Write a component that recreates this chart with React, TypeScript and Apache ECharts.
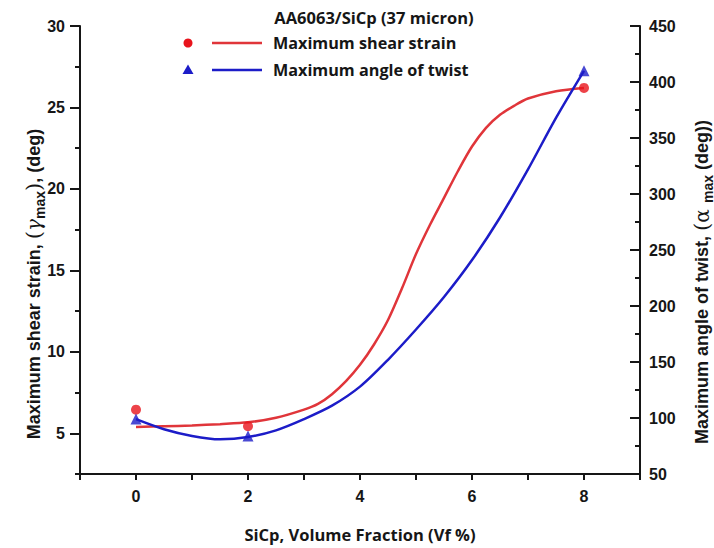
import React, { useEffect, useRef } from "react";
import * as echarts from "echarts";

// Measured data points
const volumeFraction = [0, 2, 8];
const shearStrain = [6.45, 5.43, 26.2];
const twistAngle = [99, 84, 410];

// Fitted curves
const shearFitX = [0, 0.5, 1, 1.5, 2, 2.5, 3, 3.25, 3.5, 3.75, 4, 4.25, 4.5, 4.75, 5, 5.25, 5.5, 5.75, 6, 6.25, 6.5, 6.75, 7, 7.5, 8];
const shearFit = [5.38, 5.43, 5.48, 5.56, 5.67, 5.95, 6.45, 6.8, 7.4, 8.2, 9.2, 10.45, 11.95, 13.9, 16.0, 17.8, 19.45, 21.1, 22.6, 23.75, 24.55, 25.1, 25.55, 26.0, 26.2];
const twistFitX = [0, 0.5, 1, 1.5, 2, 2.5, 3, 3.5, 4, 4.5, 5, 5.5, 6, 6.5, 7, 7.5, 8];
const twistFit = [99, 90, 84, 81, 83, 89, 99, 111, 128, 152, 179, 208, 241, 279, 322, 368, 410];

// Tick labels
const xTickLabels = [0, 2, 4, 6, 8];
const leftMajorTicks = [5, 10, 15, 20, 25, 30];

const RED_LINE = "#e0353a";
const RED_DOT = "#e8141c";
const BLUE = "#1c1cc8";
const INK = "#161616";

export default function App() {
  const ref = useRef<HTMLDivElement>(null);
  useEffect(() => {
    if (!ref.current) return;
    const chart = echarts.init(ref.current, undefined, { renderer: "svg" });
    const tickFont = { fontFamily: "Liberation Sans", fontWeight: "bold" as const, fontSize: 16, color: INK };
    const axisLine = { onZero: false, lineStyle: { color: INK, width: 2 } };
    const tickStyle = { color: INK, width: 2 };
    chart.setOption({
      animation: false,
      backgroundColor: "#fff",
      grid: { left: 80, right: 74, top: 26, bottom: 70, containLabel: false },
      xAxis: {
        type: "value",
        min: -1,
        max: 9,
        interval: 1,
        axisLine,
        axisTick: { length: 6, lineStyle: tickStyle },
        axisLabel: {
          ...tickFont,
          margin: 14,
          formatter: (v: number) => (xTickLabels.includes(v) ? String(v) : ""),
        },
        splitLine: { show: false },
        name: "SiCp, Volume Fraction (Vf %)",
        nameLocation: "middle",
        nameGap: 52,
        nameTextStyle: { fontFamily: "Open Sans", fontWeight: "bold", fontSize: 16.5, color: INK },
      },
      yAxis: [
        {
          type: "value",
          position: "left",
          offset: 0,
          min: 2.5,
          max: 30,
          interval: 2.5,
          axisLine: { show: true, ...axisLine },
          axisTick: { show: true, length: 5, lineStyle: tickStyle },
          axisLabel: {
            ...tickFont,
            margin: 15,
            formatter: (v: number) => (leftMajorTicks.includes(v) ? String(v) : ""),
          },
          splitLine: { show: false },
        },
        {
          type: "value",
          position: "right",
          offset: 0,
          min: 50,
          max: 450,
          interval: 50,
          axisLine: { show: true, ...axisLine },
          axisTick: { show: true, inside: true, length: 10, lineStyle: tickStyle },
          minorTick: { show: true, splitNumber: 2, length: 5, lineStyle: tickStyle },
          axisLabel: { ...tickFont, margin: 9 },
          splitLine: { show: false },
        },
        {
          type: "value",
          position: "left",
          offset: 0,
          min: 2.5,
          max: 30,
          interval: 2.5,
          axisLine: { show: false, onZero: false },
          axisTick: { show: true, length: 10, lineStyle: tickStyle, customValues: leftMajorTicks },
          axisLabel: { show: false },
          splitLine: { show: false },
        },
      ],
      series: [
        {
          name: "Maximum shear strain fit",
          type: "line",
          yAxisIndex: 0,
          smooth: 0.3,
          showSymbol: false,
          lineStyle: { color: RED_LINE, width: 2.5 },
          data: shearFitX.map((x, i) => [x, shearFit[i]]),
          z: 2,
        },
        {
          name: "Maximum angle of twist fit",
          type: "line",
          yAxisIndex: 1,
          smooth: 0.3,
          showSymbol: false,
          lineStyle: { color: BLUE, width: 2.5 },
          data: twistFitX.map((x, i) => [x, twistFit[i]]),
          z: 2,
        },
        {
          name: "Maximum shear strain",
          type: "scatter",
          yAxisIndex: 0,
          symbol: "circle",
          symbolSize: 10,
          itemStyle: { color: RED_DOT },
          data: volumeFraction.map((x, i) => [x, shearStrain[i]]),
          z: 3,
        },
        {
          name: "Maximum angle of twist",
          type: "scatter",
          yAxisIndex: 1,
          symbol: "triangle",
          symbolSize: 11,
          itemStyle: { color: BLUE },
          data: volumeFraction.map((x, i) => [x, twistAngle[i]]),
          z: 3,
        },
      ],
      graphic: [
        {
          type: "text",
          x: 374,
          y: 17,
          style: {
            text: "AA6063/SiCp (37 micron)",
            fontFamily: "Open Sans",
            fontWeight: "bold",
            fontSize: 16.5,
            fill: INK,
            align: "center",
            verticalAlign: "middle",
          },
        },
        { type: "circle", shape: { cx: 188, cy: 43, r: 4.5 }, style: { fill: RED_DOT } },
        { type: "line", shape: { x1: 212, y1: 43, x2: 262, y2: 43 }, style: { stroke: RED_LINE, lineWidth: 2.5 } },
        {
          type: "text",
          x: 273,
          y: 43,
          style: {
            text: "Maximum shear strain",
            fontFamily: "Open Sans",
            fontWeight: "bold",
            fontSize: 16.2,
            fill: INK,
            align: "left",
            verticalAlign: "middle",
          },
        },
        {
          type: "polygon",
          shape: { points: [[188, 64.5], [182.5, 74], [193.5, 74]] },
          style: { fill: BLUE },
        },
        { type: "line", shape: { x1: 212, y1: 70, x2: 262, y2: 70 }, style: { stroke: BLUE, lineWidth: 2.5 } },
        {
          type: "text",
          x: 273,
          y: 70,
          style: {
            text: "Maximum angle of twist",
            fontFamily: "Open Sans",
            fontWeight: "bold",
            fontSize: 16.2,
            fill: INK,
            align: "left",
            verticalAlign: "middle",
          },
        },
        {
          type: "text",
          x: 34,
          y: 284,
          rotation: Math.PI / 2,
          style: {
            text: "{a|Maximum shear strain, }{p|(}{g|γ}{s|max}{p|)}{a|, (deg)}",
            align: "center",
            verticalAlign: "middle",
            fill: INK,
            rich: {
              a: { fontFamily: "Liberation Sans", fontWeight: "bold", fontSize: 18, fill: INK },
              p: { fontFamily: "DejaVu Serif", fontWeight: "normal", fontSize: 21, fill: INK },
              g: { fontFamily: "DejaVu Serif", fontStyle: "italic", fontWeight: "normal", fontSize: 20, fill: INK },
              s: { fontFamily: "Liberation Sans", fontWeight: "bold", fontSize: 14, fill: INK, padding: [11, 0, 0, 0] },
            },
          },
        },
        {
          type: "text",
          x: 702,
          y: 282,
          rotation: Math.PI / 2,
          style: {
            text: "{a|Maximum angle of twist, }{p|(}{g|α }{s|max}{a| (deg))}",
            align: "center",
            verticalAlign: "middle",
            fill: INK,
            rich: {
              a: { fontFamily: "Liberation Sans", fontWeight: "bold", fontSize: 18, fill: INK },
              p: { fontFamily: "DejaVu Serif", fontWeight: "normal", fontSize: 21, fill: INK },
              g: { fontFamily: "DejaVu Serif", fontWeight: "normal", fontSize: 20, fill: INK },
              s: { fontFamily: "Liberation Sans", fontWeight: "bold", fontSize: 14, fill: INK, padding: [11, 0, 0, 0] },
            },
          },
        },
      ],
    });
    return () => chart.dispose();
  }, []);
  return (
    <div
      ref={ref}
      style={{ position: "fixed", left: 0, top: 0, width: 714, height: 548, background: "#fff" }}
    />
  );
}
